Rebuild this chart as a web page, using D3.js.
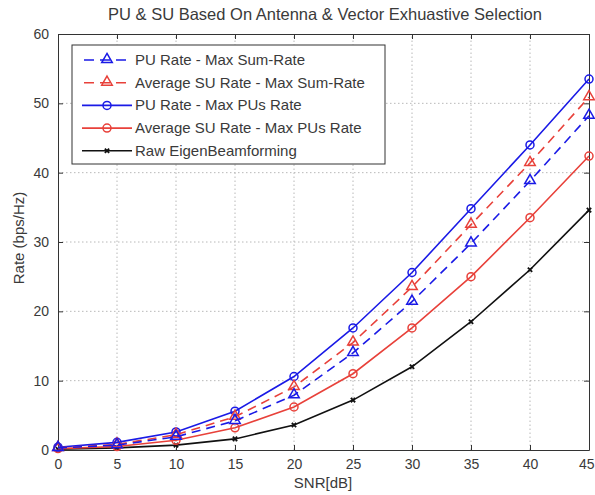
<!DOCTYPE html>
<html lang="en">
<head>
<meta charset="UTF-8">
<title>PU & SU Rate</title>
<style>
  body { margin: 0; background: #fff; }
  text { font-family: Arial, "Liberation Sans", sans-serif; fill: #3a3a3a; }
  .grid line { stroke: #b8b8b8; stroke-dasharray: 1.5 2.5; }
  .axis path, .axis line { stroke: #333; }
</style>
</head>
<body>
<div id="plot"></div>
<script src="https://cdnjs.cloudflare.com/ajax/libs/d3/7.8.5/d3.min.js"></script>
<script>
// data
var snr = [0, 5, 10, 15, 20, 25, 30, 35, 40, 45];
var puMaxSum   = [0.3, 0.7, 1.9, 4.2, 7.9, 14.0, 21.4, 29.8, 38.8, 48.2];
var suMaxSum   = [0.3, 0.8, 2.2, 4.8, 9.1, 15.5, 23.5, 32.5, 41.4, 50.9];
var puMaxPU    = [0.4, 1.1, 2.6, 5.6, 10.6, 17.6, 25.6, 34.8, 44.0, 53.5];
var suMaxPU    = [0.2, 0.5, 1.4, 3.2, 6.2, 11.0, 17.6, 25.0, 33.5, 42.4];
var rawEigen   = [0.1, 0.3, 0.7, 1.6, 3.6, 7.2, 12.0, 18.5, 26.0, 34.6];
var xTicks = [0, 5, 10, 15, 20, 25, 30, 35, 40, 45];
var yTicks = [0, 10, 20, 30, 40, 50, 60];

var series = [
  {name: "PU Rate - Max Sum-Rate", values: puMaxSum, color: "#1a1ae6", dash: "9,6", marker: "triangle"},
  {name: "Average SU Rate - Max Sum-Rate", values: suMaxSum, color: "#e8413a", dash: "9,6", marker: "triangle"},
  {name: "PU Rate - Max PUs Rate", values: puMaxPU, color: "#1a1ae6", dash: null, marker: "circle"},
  {name: "Average SU Rate - Max PUs Rate", values: suMaxPU, color: "#e8413a", dash: null, marker: "circle"},
  {name: "Raw EigenBeamforming", values: rawEigen, color: "#111", dash: null, marker: "star"}
];

var W = 595, H = 495;
var m = {left: 58, right: 6, top: 34, bottom: 45};

var svg = d3.select("#plot").append("svg")
  .attr("width", W).attr("height", H);

var x = d3.scaleLinear().domain([0, 45]).range([m.left, W - m.right]);
var y = d3.scaleLinear().domain([0, 60]).range([H - m.bottom, m.top]);

// grid
svg.append("g").attr("class", "grid")
  .selectAll("line.v").data(xTicks.slice(1, -1)).enter().append("line")
  .attr("x1", d => x(d)).attr("x2", d => x(d))
  .attr("y1", y(0)).attr("y2", y(60));
svg.select("g.grid")
  .selectAll("line.h").data(yTicks.slice(1, -1)).enter().append("line")
  .attr("x1", x(0)).attr("x2", x(45))
  .attr("y1", d => y(d)).attr("y2", d => y(d));

// axes with inward ticks
var gx = svg.append("g").attr("class", "axis")
  .attr("transform", "translate(0," + y(0) + ")")
  .call(d3.axisBottom(x).tickValues(xTicks).tickSizeInner(-5).tickSizeOuter(0).tickPadding(9));
svg.append("g").attr("class", "axis")
  .attr("transform", "translate(" + x(0) + ",0)")
  .call(d3.axisLeft(y).tickValues(yTicks).tickSizeInner(-5).tickSizeOuter(0).tickPadding(9));
svg.append("g").attr("class", "axis")
  .attr("transform", "translate(0," + y(60) + ")")
  .call(d3.axisTop(x).tickValues(xTicks).tickSizeInner(-5).tickSizeOuter(0).tickFormat(""));
svg.append("g").attr("class", "axis")
  .attr("transform", "translate(" + x(45) + ",0)")
  .call(d3.axisRight(y).tickValues(yTicks).tickSizeInner(-5).tickSizeOuter(0).tickFormat(""));
svg.selectAll(".axis text").style("font-size", "14px").attr("fill", "#3a3a3a")
  .style("font-family", "Arial, 'Liberation Sans', sans-serif");
// keep the last x label inside the page
gx.selectAll(".tick text").filter(d => d === 45)
  .attr("text-anchor", "end").attr("x", W - 1 - x(45));

// series
var line = d3.line().x((d, i) => x(snr[i])).y(d => y(d));

function drawMarker(g, type, cx, cy, color, size) {
  if (type === "circle") {
    g.append("circle").attr("cx", cx).attr("cy", cy).attr("r", size / 2)
      .attr("fill", "none").attr("stroke", color).attr("stroke-width", 1.5);
  } else if (type === "triangle") {
    g.append("path")
      .attr("d", d3.symbol().type(d3.symbolTriangle).size(size * size * 0.75)())
      .attr("transform", "translate(" + cx + "," + (cy - 0.5) + ")")
      .attr("fill", "none").attr("stroke", color).attr("stroke-width", 1.5);
  } else {
    g.append("path")
      .attr("d", d3.symbol().type(d3.symbolX).size(14)())
      .attr("transform", "translate(" + cx + "," + cy + ")")
      .attr("fill", "none").attr("stroke", color).attr("stroke-width", 1.8);
  }
}

series.slice().reverse().forEach(function(s) {
  var g = svg.append("g");
  g.append("path").datum(s.values)
    .attr("d", line)
    .attr("fill", "none")
    .attr("stroke", s.color)
    .attr("stroke-width", 1.6)
    .attr("stroke-dasharray", s.dash);
  s.values.forEach(function(v, i) {
    drawMarker(g, s.marker, x(snr[i]), y(v), s.color, 8);
  });
});

// legend
var lg = svg.append("g");
lg.append("rect").attr("x", 72).attr("y", 45).attr("width", 313).attr("height", 119)
  .attr("fill", "#fff").attr("stroke", "#333").attr("stroke-width", 1);
series.forEach(function(s, i) {
  var ly = 60 + i * 22.7;
  lg.append("line").attr("x1", 82).attr("x2", 132).attr("y1", ly).attr("y2", ly)
    .attr("stroke", s.color).attr("stroke-width", 1.6)
    .attr("stroke-dasharray", s.dash ? "10,6" : null)
    .attr("stroke-dashoffset", s.dash ? -2 : null);
  drawMarker(lg, s.marker, 107, ly, s.color, 8);
  lg.append("text").attr("x", 135).attr("y", ly + 5)
    .style("font-size", "15px").text(s.name);
});

// titles
svg.append("text").attr("x", 325).attr("y", 20).attr("text-anchor", "middle")
  .style("font-size", "16.5px").text("PU & SU Based On Antenna & Vector Exhuastive Selection");
svg.append("text").attr("x", 323).attr("y", 488).attr("text-anchor", "middle")
  .style("font-size", "15px").text("SNR[dB]");
svg.append("text").attr("transform", "translate(24,238) rotate(-90)")
  .attr("text-anchor", "middle").style("font-size", "15px").text("Rate (bps/Hz)");
</script>
</body>
</html>
